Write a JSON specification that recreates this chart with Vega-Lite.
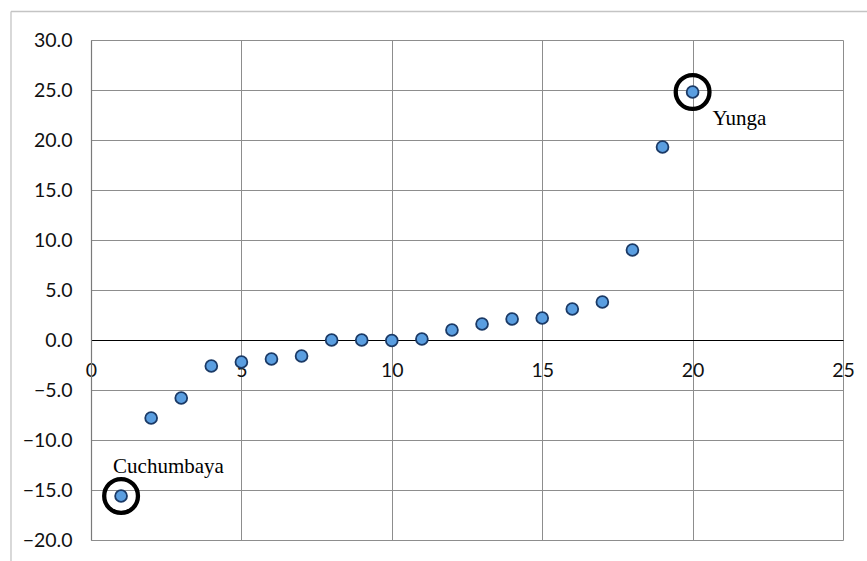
{
  "$schema": "https://vega.github.io/schema/vega-lite/v6.json",
  "width": 752,
  "height": 500,
  "autosize": {"type": "none"},
  "padding": {"left": 91, "top": 40, "right": 24, "bottom": 21},
  "background": "white",
  "config": {"view": {"stroke": null}},
  "data": {
    "values": [
      {"rank": 1, "value": -15.6, "name": "Cuchumbaya"},
      {"rank": 2, "value": -7.8, "name": ""},
      {"rank": 3, "value": -5.8, "name": ""},
      {"rank": 4, "value": -2.6, "name": ""},
      {"rank": 5, "value": -2.2, "name": ""},
      {"rank": 6, "value": -1.9, "name": ""},
      {"rank": 7, "value": -1.6, "name": ""},
      {"rank": 8, "value": 0.0, "name": ""},
      {"rank": 9, "value": 0.0, "name": ""},
      {"rank": 10, "value": -0.05, "name": ""},
      {"rank": 11, "value": 0.1, "name": ""},
      {"rank": 12, "value": 1.0, "name": ""},
      {"rank": 13, "value": 1.6, "name": ""},
      {"rank": 14, "value": 2.1, "name": ""},
      {"rank": 15, "value": 2.2, "name": ""},
      {"rank": 16, "value": 3.1, "name": ""},
      {"rank": 17, "value": 3.8, "name": ""},
      {"rank": 18, "value": 9.0, "name": ""},
      {"rank": 19, "value": 19.3, "name": ""},
      {"rank": 20, "value": 24.8, "name": "Yunga"}
    ]
  },
  "layer": [
    {
      "data": {"values": [{}]},
      "mark": {"type": "rule", "color": "#c4c4c4", "strokeWidth": 1.3, "clip": false},
      "encoding": {
        "x": {"datum": -2.66, "type": "quantitative"},
        "x2": {"datum": 27},
        "y": {"datum": 32.85, "type": "quantitative"}
      }
    },
    {
      "data": {"values": [{}]},
      "mark": {"type": "rule", "color": "#c4c4c4", "strokeWidth": 1.3, "clip": false},
      "encoding": {
        "x": {"datum": -2.66, "type": "quantitative"},
        "y": {"datum": 32.85, "type": "quantitative"},
        "y2": {"datum": -23}
      }
    },
    {
      "mark": {"type": "circle", "size": 140, "fill": "#5a9ee0", "stroke": "#1b3a66", "strokeWidth": 1.8, "opacity": 1},
      "encoding": {
        "x": {
          "field": "rank",
          "type": "quantitative",
          "scale": {"domain": [0, 25], "nice": false, "zero": false},
          "axis": {
            "orient": "bottom",
            "offset": -200,
            "values": [0, 5, 10, 15, 20, 25],
            "format": "d",
            "title": null,
            "grid": true,
            "gridColor": "#8d8d8d",
            "gridWidth": 1,
            "domainColor": "#000000",
            "domainWidth": 1.2,
            "ticks": false,
            "labelPadding": 21,
            "labelFont": "Lato",
            "labelFontSize": 19.5,
            "labelColor": "#111111",
            "labelOverlap": false,
            "labelFlush": false
          }
        },
        "y": {
          "field": "value",
          "type": "quantitative",
          "scale": {"domain": [-20, 30], "nice": false, "zero": false},
          "axis": {
            "values": [-20, -15, -10, -5, 0, 5, 10, 15, 20, 25, 30],
            "format": ".1f",
            "title": null,
            "grid": true,
            "gridColor": "#8d8d8d",
            "gridWidth": 1,
            "domainColor": "#7a7a7a",
            "domainWidth": 1.2,
            "ticks": false,
            "labelPadding": 19,
            "labelFont": "Lato",
            "labelFontSize": 19.5,
            "labelColor": "#111111",
            "labelOverlap": false,
            "labelFlush": false
          }
        }
      }
    },
    {
      "transform": [{"filter": "datum.name != ''"}],
      "mark": {"type": "point", "shape": "circle", "filled": false, "size": 1140, "stroke": "#000000", "strokeWidth": 4.3, "opacity": 1},
      "encoding": {
        "x": {"field": "rank", "type": "quantitative"},
        "y": {"field": "value", "type": "quantitative"}
      }
    },
    {
      "transform": [{"filter": "datum.name == 'Yunga'"}],
      "mark": {"type": "text", "align": "left", "baseline": "alphabetic", "dx": 20, "dy": 33, "font": "Liberation Serif", "fontSize": 21, "color": "#000000"},
      "encoding": {
        "x": {"field": "rank", "type": "quantitative"},
        "y": {"field": "value", "type": "quantitative"},
        "text": {"field": "name"}
      }
    },
    {
      "transform": [{"filter": "datum.name == 'Cuchumbaya'"}],
      "mark": {"type": "text", "align": "left", "baseline": "alphabetic", "dx": -8, "dy": -23, "font": "Liberation Serif", "fontSize": 21, "color": "#000000"},
      "encoding": {
        "x": {"field": "rank", "type": "quantitative"},
        "y": {"field": "value", "type": "quantitative"},
        "text": {"field": "name"}
      }
    }
  ]
}
